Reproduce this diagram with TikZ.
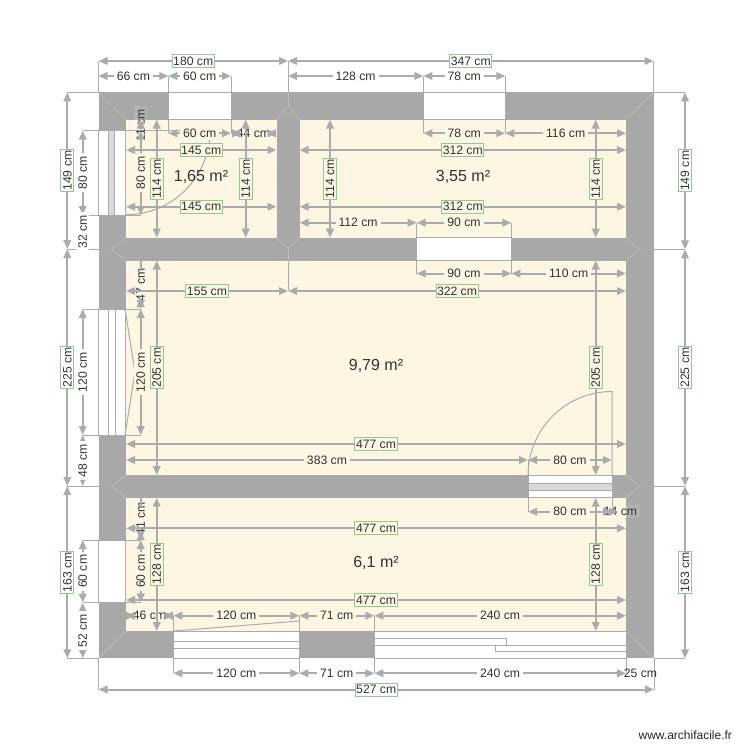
\documentclass[tikz,border=0pt]{standalone}
\usepackage{fontspec}
\setmainfont{Liberation Sans}
\usetikzlibrary{arrows.meta}
\definecolor{wallgray}{HTML}{A8A8A8}
\definecolor{seamgray}{HTML}{BEBEBE}
\definecolor{dimgray}{HTML}{ABABAB}
\definecolor{roomcream}{HTML}{FCF6E3}
\definecolor{boxgreen}{HTML}{8FCB8F}
\definecolor{inkgray}{HTML}{333333}
\tikzset{
  >={Triangle[length=9pt,width=7.5pt]},
  dim/.style={<->, dimgray, line width=2pt},
  ext/.style={dimgray, line width=1pt},
  seam/.style={seamgray, line width=0.6pt},
  opening/.style={fill=white, draw=dimgray, line width=1pt},
  tag/.style={font=\fontsize{12.2}{14}\selectfont, text=inkgray, fill=white, inner xsep=3pt, inner ysep=0pt, minimum height=13pt},
  tagin/.style={tag, fill=roomcream},
  bare/.style={tag, fill=white, fill opacity=0.12, text opacity=1},
  box/.style={tag, draw=boxgreen, line width=1pt, inner xsep=1pt},
  boxin/.style={box, fill=roomcream},
  area/.style={font=\fontsize{16}{18}\selectfont, text=inkgray}
}
\begin{document}
\begin{tikzpicture}[x=1pt,y=-1pt]
    \useasboundingbox (0,0) rectangle (750,750);
    % walls and rooms
    \fill [wallgray] (98.5,92.3) rectangle (654,658.3);
    \fill [roomcream] (126,119.5) rectangle (276.5,237.7);
    \fill [roomcream] (299.5,119.5) rectangle (626,237.7);
    \fill [roomcream] (126,260.5) rectangle (626,475);
    \fill [roomcream] (126,497.7) rectangle (626,631);
    % seams between the walls
    \draw [seam] (98.5,92.3) -- (126,119.5);
    \draw [seam] (654,92.3) -- (626,119.5);
    \draw [seam] (98.5,658.3) -- (126,631);
    \draw [seam] (654,658.3) -- (626,631);
    \draw [seam] (276.5,119.5) -- (288,105.7) -- (299.5,119.5);
    \draw [seam] (288,92.3) -- (288,105.7);
    \draw [seam] (276.5,237.7) -- (288,249) -- (299.5,237.7);
    \draw [seam] (288,249) -- (288,260.5);
    \draw [seam] (126,237.7) -- (111.7,249.3) -- (126,260.5);
    \draw [seam] (626,237.7) -- (639.5,249.3) -- (626,260.5);
    \draw [seam] (126,475) -- (111.7,486) -- (126,497.7);
    \draw [seam] (626,475) -- (639.5,486) -- (626,497.7);
    % windows and doors
    \draw [opening] (168.3,92.3) rectangle (231,119.5);
    \draw [opening] (423.3,92.3) rectangle (505.3,119.5);
    \draw [opening] (416.7,237.7) rectangle (511.3,260.5);
    \draw [opening] (98.5,130.7) rectangle (125,215);
    \fill [gray!30] (108.7,130.7) rectangle (114.7,215);
    \draw [ext] (108.7,130.7) -- (108.7,215) (114.7,130.7) -- (114.7,215);
    \draw [opening] (98.5,309) rectangle (125,435);
    \draw [ext] (108.5,309) -- (108.5,435) (115,309) -- (115,435);
    \draw [ext] (125,309) -- (135,372) -- (125,435);
    \draw [opening] (98.5,540) rectangle (125,602.7);
    \draw [opening] (173.3,631) rectangle (299.3,658.3);
    \draw [ext] (173.3,641.7) -- (299.3,641.7) (173.3,648) -- (299.3,648);
    \draw [ext] (173.3,631) -- (299.3,621);
    \draw [opening] (374.7,631) rectangle (626.5,658.3);
    \draw [ext] (374.7,638.3) -- (506,638.3) -- (506,645) -- (374.7,645);
    \draw [ext] (626.5,645) -- (495,645) -- (495,651.3) -- (626.5,651.3);
    \draw [opening] (528,475) rectangle (612,497.7);
    \fill [gray!30] (528,483.3) rectangle (612,490);
    \draw [ext] (528,483.3) -- (612,483.3) (528,490) -- (612,490);
    \draw [ext] (612,475) -- (612,391.5) arc [start angle=-90, end angle=-180, radius=84];
    \draw [ext] (210,130.7) arc [start angle=0, end angle=90, radius=84];
    % extension lines
    \draw [ext] (98.5,61) -- (98.5,92.3) (288,61) -- (288,92.3) (653.5,61) -- (653.5,92.3);
    \draw [ext] (168.3,76) -- (168.3,133.3) (231,76) -- (231,133.3);
    \draw [ext] (423.3,76) -- (423.3,133.3) (505.3,76) -- (505.3,133.3);
    \draw [ext] (416.7,222.7) -- (416.7,273.5) (511.3,222.7) -- (511.3,273.5);
    \draw [ext] (288,260.5) -- (288,291);
    \draw [ext] (528,460) -- (528,511.7) (612,475) -- (612,511.7);
    \draw [ext] (173.3,615.7) -- (173.3,673.3) (299.3,615.7) -- (299.3,673.3);
    \draw [ext] (374.3,615.7) -- (374.3,673.3) (626,658.3) -- (626,673.3);
    \draw [ext] (98.5,658.3) -- (98.5,689.5) (654,658.3) -- (654,689.5);
    \draw [ext] (67.3,92.3) -- (98.5,92.3) (67.3,249) -- (111.7,249);
    \draw [ext] (67.3,486) -- (111.7,486) (67.3,658.3) -- (98.5,658.3);
    \draw [ext] (654,92.3) -- (685,92.3) (639.5,249.3) -- (685,249.3);
    \draw [ext] (639.5,486) -- (685,486) (654,658.3) -- (685,658.3);
    \draw [ext] (82.7,130.7) -- (210,130.7) (82.7,215) -- (140.7,215);
    \draw [ext] (82.7,309) -- (140.7,309) (82.7,435) -- (140.7,435);
    \draw [ext] (82.7,540) -- (140.7,540) (82.7,602.7) -- (140.7,602.7);
    % short heights beside the left wall
    \node [bare, rotate=90] (h11) at (140.7,125) {11 cm};
    \draw [dim] (140.7,119.5) -- (140.7,130.7);
    \draw [dim] (140.7,130.7) -- node [tagin, rotate=90] (h80b) {80 cm} (140.7,215);
    \node [bare, rotate=90] (h47) at (140.7,284.7) {47 cm};
    \draw [dim] (140.7,260.5) -- (140.7,271) (140.7,298) -- (140.7,309);
    \draw [dim] (140.7,309) -- node [tagin, rotate=90] (h120b) {120 cm} (140.7,435);
    \node [bare, rotate=90] (h41) at (140.7,519) {41 cm};
    \draw [dim] (140.7,497.7) -- (140.7,507) (140.7,531) -- (140.7,540);
    \draw [dim] (140.7,540) -- node [tagin, rotate=90] (h60b) {60 cm} (140.7,602.7);
    % widths, top to bottom
    \draw [dim] (98.5,61) -- node [box] (w180) {180 cm} (288,61);
    \draw [dim] (288,61) -- node [box] (w347) {347 cm} (653.5,61);
    \draw [dim] (98.5,76) -- node [tag] (w66) {66 cm} (168.3,76);
    \draw [dim] (168.3,76) -- node [tag] (w60a) {60 cm} (231,76);
    \draw [dim] (288,76) -- node [tag] (w128) {128 cm} (423.3,76);
    \draw [dim] (423.3,76) -- node [tag] (w78a) {78 cm} (505.3,76);
    \draw [dim] (168.3,133.3) -- node [tagin] (w60b) {60 cm} (231,133.3);
    \node [bare] (w44) at (253.5,133.3) {44 cm};
    \draw [<-, dim] (231,133.3) -- (241,133.3);
    \draw [->, dim] (267,133.3) -- (276.5,133.3);
    \draw [dim] (423.3,133.3) -- node [tagin] (w78b) {78 cm} (505.3,133.3);
    \draw [dim] (505.3,133.3) -- node [tagin] (w116) {116 cm} (626,133.3);
    \draw [dim] (126,150) -- node [boxin] (w145a) {145 cm} (276.5,150);
    \draw [dim] (299.5,150) -- node [boxin] (w312a) {312 cm} (626,150);
    \draw [dim] (126,206.7) -- node [boxin] (w145b) {145 cm} (276.5,206.7);
    \draw [dim] (299.5,206.7) -- node [boxin] (w312b) {312 cm} (626,206.7);
    \draw [dim] (299.5,222.7) -- node [tagin] (w112) {112 cm} (416.7,222.7);
    \draw [dim] (416.7,222.7) -- node [tagin] (w90a) {90 cm} (511.3,222.7);
    \draw [dim] (416.7,273.5) -- node [tagin] (w90b) {90 cm} (511.3,273.5);
    \draw [dim] (511.3,273.5) -- node [tagin] (w110) {110 cm} (626,273.5);
    \draw [dim] (126,291) -- node [boxin] (w155) {155 cm} (288,291);
    \draw [dim] (288,291) -- node [boxin] (w322) {322 cm} (626,291);
    \draw [dim] (126,444) -- node [boxin] (w477a) {477 cm} (626,444);
    \draw [dim] (126,460) -- node [tagin] (w383) {383 cm} (528,460);
    \draw [dim] (528,460) -- node [tagin] (w80a) {80 cm} (612,460);
    \draw [dim] (528,511.7) -- node [tagin] (w80b) {80 cm} (612,511.7);
    \draw [dim] (126,528.3) -- node [boxin] (w477b) {477 cm} (626,528.3);
    \draw [dim] (126,600) -- node [boxin] (w477c) {477 cm} (626,600);
    \node [bare] (w46) at (149.5,615.7) {46 cm};
    \draw [<-, dim] (126,615.7) -- (135,615.7);
    \draw [->, dim] (164,615.7) -- (173.3,615.7);
    \draw [dim] (173.3,615.7) -- node [tagin] (w120a) {120 cm} (299.3,615.7);
    \draw [dim] (299.3,615.7) -- node [tagin] (w71a) {71 cm} (374.3,615.7);
    \draw [dim] (374.3,615.7) -- node [tagin] (w240a) {240 cm} (626,615.7);
    \draw [dim] (173.3,673.3) -- node [tag] (w120b) {120 cm} (299.3,673.3);
    \draw [dim] (299.3,673.3) -- node [tag] (w71b) {71 cm} (374.3,673.3);
    \draw [dim] (374.3,673.3) -- node [tag] (w240b) {240 cm} (626,673.3);
    \node [bare, fill opacity=0] (w25) at (640.5,673.3) {25 cm};
    \draw [dim] (98.5,689.5) -- node [box] (w527) {527 cm} (654,689.5);
    % heights, left to right
    \draw [dim] (67.3,92.3) -- node [box, rotate=90] (h149a) {149 cm} (67.3,249);
    \draw [dim] (67.3,249) -- node [box, rotate=90] (h225a) {225 cm} (67.3,486);
    \draw [dim] (67.3,486) -- node [box, rotate=90] (h163a) {163 cm} (67.3,658.3);
    \draw [dim] (82.7,130.7) -- node [tag, rotate=90] (h80a) {80 cm} (82.7,215);
    \draw [dim] (82.7,215) -- node [tag, rotate=90] (h32) {32 cm} (82.7,249);
    \draw [dim] (82.7,309) -- node [tag, rotate=90] (h120a) {120 cm} (82.7,435);
    \draw [dim] (82.7,435) -- node [tag, rotate=90] (h48) {48 cm} (82.7,486);
    \draw [dim] (82.7,540) -- node [tag, rotate=90] (h60a) {60 cm} (82.7,602.7);
    \draw [dim] (82.7,602.7) -- node [tag, rotate=90] (h52) {52 cm} (82.7,658.3);
    \draw [dim] (156.7,119.5) -- node [boxin, rotate=90] (h114a) {114 cm} (156.7,237.7);
    \draw [dim] (156.7,260.5) -- node [boxin, rotate=90] (h205a) {205 cm} (156.7,475);
    \draw [dim] (156.7,497.7) -- node [boxin, rotate=90] (h128a) {128 cm} (156.7,631);
    \draw [dim] (245.7,119.5) -- node [boxin, rotate=90] (h114b) {114 cm} (245.7,237.7);
    \draw [dim] (330,119.5) -- node [boxin, rotate=90] (h114c) {114 cm} (330,237.7);
    \draw [dim] (595.7,119.5) -- node [boxin, rotate=90] (h114d) {114 cm} (595.7,237.7);
    \draw [dim] (595.7,260.5) -- node [boxin, rotate=90] (h205b) {205 cm} (595.7,475);
    \draw [dim] (595.7,497.7) -- node [boxin, rotate=90] (h128b) {128 cm} (595.7,631);
    \draw [dim] (685,92.3) -- node [box, rotate=90] (h149b) {149 cm} (685,249.3);
    \draw [dim] (685,249.3) -- node [box, rotate=90] (h225b) {225 cm} (685,486);
    \draw [dim] (685,486) -- node [box, rotate=90] (h163b) {163 cm} (685,658.3);
    % labels that sit over other lines
    \node [bare] (w14) at (620.5,511.7) {14 cm};
    \draw [<-, dim] (612,511.7) -- (618,511.7);
    % room areas
    \node [area] (room1) at (201,177) {1,65 m²};
    \node [area] (room2) at (463,177) {3,55 m²};
    \node [area] (room3) at (376,366) {9,79 m²};
    \node [area] (room4) at (376,563) {6,1 m²};
    \node [font=\fontsize{12}{14}\selectfont, text=black!85, anchor=east] (site) at (735.5,735.5) {www.archifacile.fr};
\end{tikzpicture}
\end{document}
